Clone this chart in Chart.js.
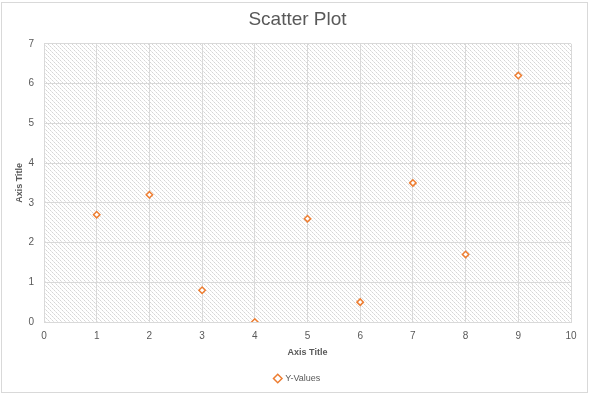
<!DOCTYPE html>
<html>
<head>
<meta charset="utf-8">
<script src="https://cdn.jsdelivr.net/npm/chart.js@4"></script>
<style>
  html, body { margin: 0; padding: 0; background: #fff; }
  #wrap { width: 595px; height: 399px; position: relative; }
</style>
</head>
<body>
<div id="wrap"><canvas id="scatterChart" width="595" height="399"></canvas></div>
<script>
// scatter values
const xValues = [1, 2, 3, 4, 5, 6, 7, 8, 9];
const yValues = [2.7, 3.2, 0.8, 0, 2.6, 0.5, 3.5, 1.7, 6.2];
const xTicks = [0, 1, 2, 3, 4, 5, 6, 7, 8, 9, 10];
const yTicks = [0, 1, 2, 3, 4, 5, 6, 7];

const textGray = '#595959';
const gridGray = '#d9d9d9';
const orange = '#ED7D31';

// light downward diagonal fill, like the plot area in the picture
function makeHatch(ctx) {
  const c = document.createElement('canvas');
  c.width = 8;
  c.height = 8;
  const p = c.getContext('2d');
  p.fillStyle = '#ffffff';
  p.fillRect(0, 0, 8, 8);
  for (let i = 0; i < 8; i++) {
    p.fillStyle = i % 2 ? '#e6e6e6' : '#d6d6d6';
    p.fillRect(i, i, 1, 1);
    p.fillRect((i + 4) % 8, i, 1, 1);
  }
  return ctx.createPattern(c, 'repeat');
}

const frame = {
  id: 'frame',
  beforeDraw(chart) {
    const { ctx, chartArea } = chart;
    ctx.save();
    ctx.fillStyle = '#fff';
    ctx.fillRect(0, 0, chart.width, chart.height);
    ctx.strokeStyle = gridGray;
    ctx.lineWidth = 1;
    ctx.strokeRect(1.5, 2.5, 586, 390);
    ctx.fillStyle = makeHatch(ctx);
    ctx.fillRect(chartArea.left, chartArea.top, chartArea.width, chartArea.height);
    ctx.restore();
  }
};

Chart.defaults.font.family = '"Liberation Sans", Arial, sans-serif';
Chart.defaults.color = textGray;

const ctx = document.getElementById('scatterChart').getContext('2d');
new Chart(ctx, {
  type: 'scatter',
  data: {
    datasets: [{
      label: 'Y-Values',
      data: xValues.map((x, i) => ({ x: x, y: yValues[i] })),
      pointStyle: 'rectRot',
      pointRadius: 3.2,
      pointHoverRadius: 3.2,
      borderWidth: 1.5,
      borderColor: orange,
      backgroundColor: '#ffffff'
    }]
  },
  options: {
    responsive: false,
    animation: false,
    layout: { padding: { left: 0, right: 0, top: 0, bottom: 6 } },
    scales: {
      x: {
        type: 'linear',
        min: 0,
        max: 10,
        afterBuildTicks: scale => { scale.ticks = xTicks.map(v => ({ value: v })); },
        afterFit: scale => { scale.height = 40; },
        grid: { color: gridGray, drawTicks: false },
        border: { color: gridGray },
        ticks: { padding: 8, font: { size: 10 }, color: textGray },
        title: {
          display: true,
          text: 'Axis Title',
          color: textGray,
          font: { size: 9, weight: 'bold' },
          padding: { top: 0, bottom: 4 }
        }
      },
      y: {
        type: 'linear',
        min: 0,
        max: 7,
        afterBuildTicks: scale => { scale.ticks = yTicks.map(v => ({ value: v })); },
        afterFit: scale => { scale.width = 44; },
        grid: { color: gridGray, drawTicks: false },
        border: { color: gridGray },
        ticks: { padding: 10, font: { size: 10 }, color: textGray },
        title: {
          display: true,
          text: 'Axis Title',
          color: textGray,
          font: { size: 9, weight: 'bold' },
          padding: { top: 14, bottom: 0 }
        }
      },
      // empty right-hand margin so title and legend centre on the whole frame
      yRight: {
        type: 'linear',
        position: 'right',
        min: 0,
        max: 7,
        afterFit: scale => { scale.width = 24; },
        grid: { display: false },
        border: { display: false },
        ticks: { display: false }
      }
    },
    plugins: {
      title: {
        display: true,
        text: 'Scatter Plot',
        color: textGray,
        font: { size: 19, weight: 'normal' },
        padding: { top: 8, bottom: 13 }
      },
      legend: {
        position: 'bottom',
        labels: {
          usePointStyle: true,
          pointStyle: 'rectRot',
          boxWidth: 6,
          boxHeight: 6,
          padding: 12,
          font: { size: 9 },
          color: textGray
        }
      },
      tooltip: { enabled: false }
    }
  },
  plugins: [frame]
});
</script>
</body>
</html>
